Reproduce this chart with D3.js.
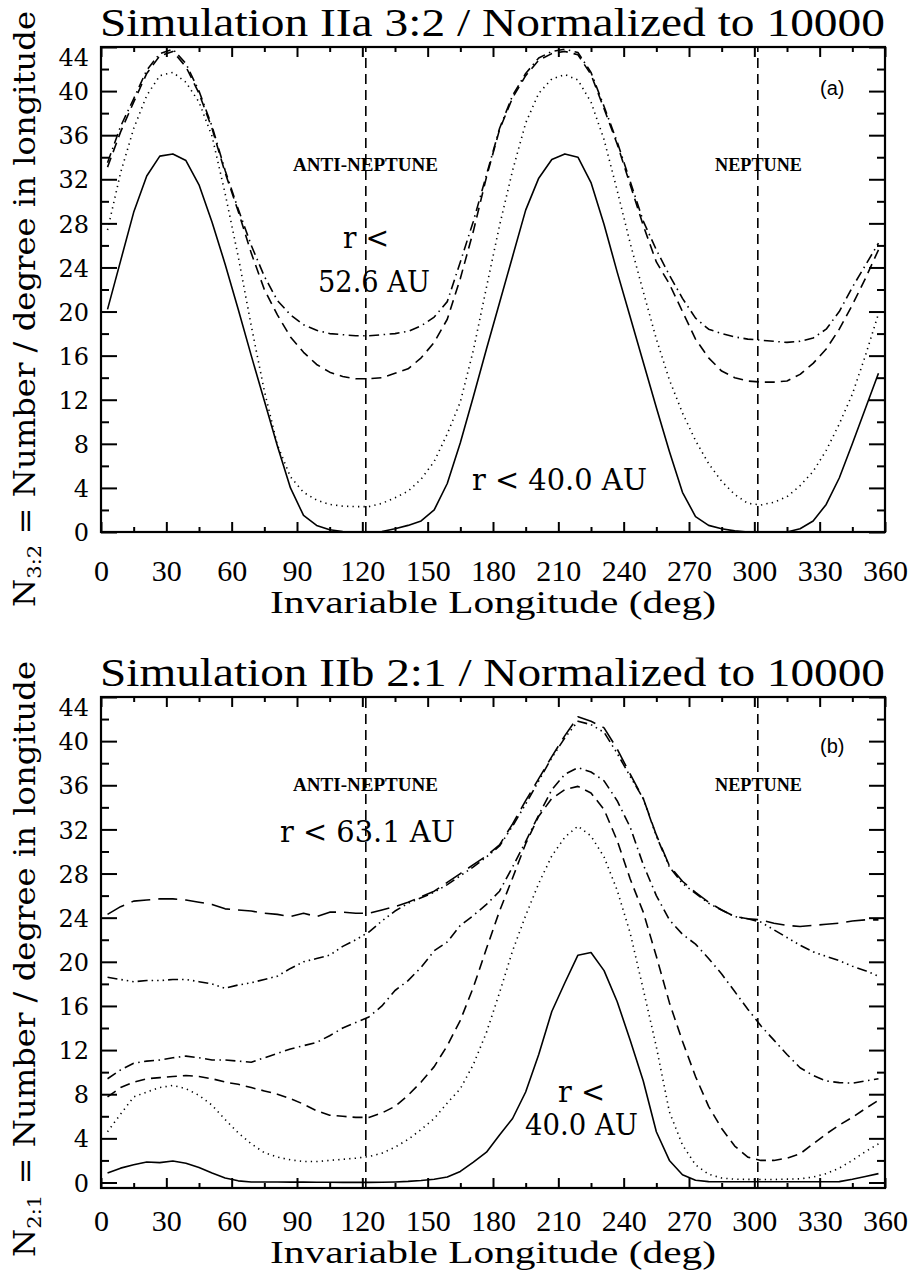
<!DOCTYPE html>
<html>
<head>
<meta charset="utf-8">
<script src="https://cdn.jsdelivr.net/npm/d3@7"></script>
<style>
  body { margin: 0; background: #fff; }
</style>
</head>
<body>
<svg id="chart" width="914" height="1273"></svg>
<script>
// Bin centres (invariable longitude, deg)
const longitude = [
  3, 9, 15, 21, 27, 33, 39, 45, 51, 57,
  63, 69, 75, 81, 87, 93, 99, 105, 111, 117,
  123, 129, 135, 141, 147, 153, 159, 165, 171, 177,
  183, 189, 195, 201, 207, 213, 219, 225, 231, 237,
  243, 249, 255, 261, 267, 273, 279, 285, 291, 297,
  303, 309, 315, 321, 327, 333, 339, 345, 351, 357
];

// Panel (a): 3:2 resonance
const topSolid = [
  20.2, 24.6, 29.0, 32.3, 34.1, 34.3, 33.7, 31.5, 28.1, 24.3,
  20.2, 16.0, 11.9, 7.8, 4.0, 1.5, 0.6, 0.2, 0.05, 0,
  0, 0.05, 0.3, 0.6, 1.0, 2.0, 4.4, 8.1, 12.3, 16.6,
  20.8, 25.0, 29.2, 32.1, 33.8, 34.3, 34.0, 31.7, 27.9, 23.6,
  19.5, 15.4, 11.3, 7.3, 3.6, 1.4, 0.6, 0.3, 0.1, 0,
  0, 0, 0, 0.3, 1.0, 2.5, 4.9, 8.0, 11.2, 14.4
];
const topDotted = [
  27.4, 32.6, 36.6, 39.6, 41.4, 41.7, 40.8, 39.0, 35.9, 30.7,
  25.0, 18.7, 12.8, 7.9, 5.0, 3.6, 2.9, 2.5, 2.35, 2.3,
  2.3, 2.6, 3.1, 3.7, 4.8, 6.4, 8.9, 11.8, 16.5, 22.2,
  27.8, 32.8, 37.1, 39.8, 41.1, 41.5, 41.0, 39.0, 35.6, 31.0,
  26.2, 21.8, 17.5, 13.8, 10.8, 8.3, 6.2, 4.6, 3.4, 2.6,
  2.45, 2.7, 3.2, 4.2, 5.5, 7.4, 9.8, 12.5, 16.0, 19.8
];
const topDashed = [
  33.1, 36.3, 39.0, 41.6, 43.2, 43.6, 42.2, 39.8, 36.6, 32.6,
  29.1, 25.3, 22.0, 19.7, 17.7, 16.3, 15.2, 14.5, 14.1, 13.9,
  13.9, 14.0, 14.4, 14.8, 15.8, 17.2, 19.3, 23.0, 27.3, 32.2,
  36.5, 39.4, 41.4, 42.8, 43.4, 43.6, 43.3, 41.5, 38.4, 35.2,
  31.5, 27.8, 24.5, 22.5, 20.0, 17.5, 15.8, 14.6, 14.0, 13.7,
  13.6, 13.6, 13.7, 14.3, 15.3, 16.6, 18.4, 20.6, 23.0, 25.6
];
const topDashDot = [
  33.5, 36.8, 39.3, 41.9, 43.4, 43.8, 42.5, 40.0, 36.8, 32.8,
  29.3, 26.0, 23.2, 21.0, 19.7, 18.8, 18.3, 18.0, 17.9, 17.8,
  17.8, 17.9, 18.0, 18.2, 18.7, 19.5, 20.9, 24.5, 28.2, 32.4,
  36.6, 39.6, 41.6, 43.0, 43.6, 43.8, 43.5, 41.7, 38.6, 35.4,
  31.8, 28.2, 25.6, 23.3, 21.2, 19.4, 18.4, 18.0, 17.7, 17.5,
  17.4, 17.3, 17.2, 17.3, 17.6, 18.4, 20.0, 22.2, 24.2, 26.2
];

// Panel (b): 2:1 resonance
const botSolid = [
  0.85, 1.3, 1.6, 1.85, 1.8, 1.95, 1.75, 1.35, 0.85, 0.4,
  0.15, 0.05, 0.05, 0.05, 0.03, 0.03, 0.02, 0.02, 0.01, 0.01,
  0.01, 0.02, 0.05, 0.1, 0.18, 0.3, 0.5, 1.0, 1.85, 2.75,
  4.3, 5.8, 8.2, 11.6, 15.5, 18.1, 20.6, 20.85, 19.2, 16.4,
  12.9, 9.2, 4.6, 2.0, 0.7, 0.2, 0.08, 0.06, 0.06, 0.06,
  0.06, 0.06, 0.06, 0.06, 0.06, 0.06, 0.08, 0.3, 0.55, 0.8
];
const botDotted = [
  4.6, 6.2, 7.75, 8.2, 8.6, 8.8, 8.5, 7.9, 7.0, 5.7,
  4.5, 3.5, 2.7, 2.3, 2.05, 1.9, 1.9, 2.0, 2.1, 2.2,
  2.35, 2.65, 3.2, 3.9, 4.8, 5.8, 7.2, 8.5, 10.7, 13.6,
  17.2, 21.0, 24.2, 27.1, 29.6, 31.3, 32.3, 31.4, 29.5, 26.5,
  22.6, 17.5, 12.3, 6.4, 3.4, 1.6, 0.75, 0.4, 0.3, 0.28,
  0.27, 0.27, 0.3, 0.33, 0.5, 0.8, 1.3, 2.0, 2.8, 3.5
];
const botDashed = [
  7.75, 8.6, 9.1, 9.4, 9.5, 9.6, 9.7, 9.6, 9.4, 9.1,
  8.9, 8.6, 8.3, 8.0, 7.6, 7.1, 6.5, 6.1, 6.0, 5.9,
  5.9, 6.3, 6.9, 7.9, 9.1, 10.5, 12.4, 14.7, 17.7, 21.2,
  24.6, 27.6, 30.7, 33.2, 34.8, 35.6, 35.9, 35.3, 33.8, 31.0,
  27.5, 24.5, 20.5, 16.3, 12.8, 9.6, 6.9, 4.9, 3.3, 2.3,
  2.0, 2.0, 2.2, 2.6, 3.5, 4.4, 5.2, 5.9, 6.7, 7.45
];
const botDashDot = [
  9.4, 10.2, 10.8, 11.0, 11.1, 11.3, 11.45, 11.3, 11.1, 11.1,
  11.0, 10.9, 11.3, 11.7, 12.1, 12.4, 12.7, 13.3, 14.0, 14.5,
  15.0, 16.0, 17.4, 18.3, 19.5, 21.0, 21.8, 23.3, 24.2, 25.2,
  26.4, 28.6, 30.9, 33.3, 35.6, 37.0, 37.6, 37.2, 36.4, 34.6,
  32.2, 28.8, 26.0, 23.8, 22.5, 21.6, 20.3, 18.9, 17.3, 15.7,
  14.2, 12.9, 11.6, 10.4, 9.7, 9.2, 9.05, 9.0, 9.2, 9.4
];
const botDashDotDot = [
  18.6, 18.4, 18.2, 18.3, 18.3, 18.4, 18.4, 18.2, 18.0, 17.6,
  17.9, 18.1, 18.4, 18.7, 19.4, 20.0, 20.3, 20.6, 21.4, 22.0,
  22.7, 23.7, 24.6, 25.3, 25.8, 26.3, 27.0, 27.8, 28.6, 29.5,
  30.5, 32.3, 34.3, 36.4, 38.5, 40.3, 41.8, 41.5, 40.8, 38.9,
  36.8, 34.8, 31.4, 28.6, 27.1, 26.2, 25.3, 24.7, 24.1, 23.9,
  23.6, 22.9, 22.2, 21.5, 20.9, 20.5, 20.1, 19.6, 19.2, 18.7
];
const botLongDash = [
  24.3, 25.0, 25.5, 25.6, 25.7, 25.7, 25.6, 25.4, 25.2, 24.8,
  24.7, 24.6, 24.4, 24.3, 24.1, 24.4, 24.1, 24.5, 24.5, 24.4,
  24.4, 24.7, 25.0, 25.4, 25.9, 26.4, 27.2, 28.0, 28.8, 29.6,
  30.6, 32.5, 34.6, 36.6, 38.6, 40.5, 42.2, 41.8, 41.2, 39.3,
  37.0, 34.8, 31.5, 28.7, 27.3, 26.3, 25.4, 24.7, 24.1, 23.9,
  23.8, 23.5, 23.3, 23.2, 23.3, 23.4, 23.5, 23.7, 23.8, 23.8
];

const xTicks = [0, 30, 60, 90, 120, 150, 180, 210, 240, 270, 300, 330, 360];
const xMinorTicks = [15, 45, 75, 105, 135, 165, 195, 225, 255, 285, 315, 345];
const yTicks = [0, 4, 8, 12, 16, 20, 24, 28, 32, 36, 40, 44];
const yMinorTicks = [2, 6, 10, 14, 18, 22, 26, 30, 34, 38, 42];
const neptuneLon = [121.6, 301.6];   // anti-Neptune, Neptune

// IDL style line patterns
const dash = {
  solid: null,
  dotted: "1.3,4.2",
  dashed: "10,6",
  dashdot: "10,4.5,1.5,4.5",
  dashdotdot: "10,4,1.5,4,1.5,4,1.5,4",
  longdash: "19,8"
};

const svg = d3.select("#chart");
const serif = "Liberation Serif";
const book = "DejaVu Serif";
const sans = "Liberation Sans";

function drawPanel(cfg) {
  const x = d3.scaleLinear().domain([0, 360]).range([101, 885]);
  const y = d3.scaleLinear().domain(cfg.yDomain).range([cfg.bottom, cfg.top]);
  const g = svg.append("g");

  const clipId = "clip-" + cfg.id;
  g.append("clipPath").attr("id", clipId)
    .append("rect")
    .attr("x", 101).attr("y", cfg.top - 1)
    .attr("width", 784).attr("height", cfg.bottom - cfg.top + 2);

  // title
  g.append("text")
    .attr("x", 100).attr("y", cfg.top - 11)
    .style("font-family", serif).attr("font-size", 39)
    .attr("textLength", 785).attr("lengthAdjust", "spacingAndGlyphs")
    .text(cfg.title);

  // Neptune / anti-Neptune markers
  g.selectAll(".nep").data(neptuneLon).join("line")
    .attr("x1", d => x(d)).attr("x2", d => x(d))
    .attr("y1", cfg.bottom).attr("y2", cfg.top)
    .attr("stroke", "#000").attr("stroke-width", 1.6)
    .attr("stroke-dasharray", "10,6");

  // curves
  const line = d3.line()
    .x((d, i) => x(longitude[i]))
    .y(d => y(d));
  g.append("g").attr("clip-path", `url(#${clipId})`)
    .selectAll("path").data(cfg.series).join("path")
    .attr("d", s => line(s.values))
    .attr("fill", "none").attr("stroke", "#000")
    .attr("stroke-width", 1.6)
    .attr("stroke-linejoin", "round")
    .attr("stroke-dasharray", s => dash[s.style]);

  // axes (IDL: ticks inward on all four sides)
  const bottomAx = g.append("g").attr("transform", `translate(0,${cfg.bottom})`)
    .call(d3.axisBottom(x).tickValues(xTicks).tickSize(-10).tickFormat(d3.format("d")));
  bottomAx.selectAll("text")
    .attr("y", cfg.xLabelY - cfg.bottom).attr("dy", null)
    .style("font-family", serif).attr("font-size", 30).attr("fill", "#000");
  g.append("g").attr("transform", `translate(0,${cfg.bottom})`)
    .call(d3.axisBottom(x).tickValues(xMinorTicks).tickSize(-5).tickFormat(""));
  g.append("g").attr("transform", `translate(0,${cfg.top})`)
    .call(d3.axisTop(x).tickValues(xTicks).tickSize(-10).tickFormat(""));
  g.append("g").attr("transform", `translate(0,${cfg.top})`)
    .call(d3.axisTop(x).tickValues(xMinorTicks).tickSize(-5).tickFormat(""));

  const leftAx = g.append("g").attr("transform", "translate(101,0)")
    .call(d3.axisLeft(y).tickValues(yTicks).tickSize(-16).tickPadding(12));
  leftAx.selectAll("text")
    .style("font-family", book).attr("font-size", 24).attr("fill", "#000")
    .attr("dy", d => d === 44 ? "0.75em" : "0.36em");
  g.append("g").attr("transform", "translate(101,0)")
    .call(d3.axisLeft(y).tickValues(yMinorTicks).tickSize(-8).tickFormat(""));
  g.append("g").attr("transform", "translate(885,0)")
    .call(d3.axisRight(y).tickValues(yTicks).tickSize(-16).tickFormat(""));
  g.append("g").attr("transform", "translate(885,0)")
    .call(d3.axisRight(y).tickValues(yMinorTicks).tickSize(-8).tickFormat(""));

  g.selectAll(".domain").remove();
  g.selectAll(".tick line").attr("stroke", "#000").attr("stroke-width", 2);

  g.append("rect")
    .attr("x", 101).attr("y", cfg.top)
    .attr("width", 784).attr("height", cfg.bottom - cfg.top)
    .attr("fill", "none").attr("stroke", "#000").attr("stroke-width", 2.2);

  // x axis title
  g.append("text")
    .attr("x", 270).attr("y", cfg.xTitleY)
    .style("font-family", serif).attr("font-size", 31)
    .attr("textLength", 446).attr("lengthAdjust", "spacingAndGlyphs")
    .text("Invariable Longitude (deg)");

  // y axis title
  const yt = g.append("text")
    .attr("transform", `translate(35,${cfg.yTitleMid}) rotate(-90)`)
    .attr("text-anchor", "middle")
    .style("font-family", book).attr("font-size", 29)
    .attr("textLength", 596).attr("lengthAdjust", "spacingAndGlyphs");
  yt.append("tspan").text("N");
  yt.append("tspan").attr("baseline-shift", "-30%").attr("font-size", 19).text(cfg.sub);
  yt.append("tspan").text(" = Number / degree in longitude");

  // annotations
  g.selectAll(".ann").data(cfg.notes).join("text")
    .attr("x", d => d.x).attr("y", d => d.y)
    .style("font-family", d => d.font)
    .attr("font-size", d => d.size)
    .attr("font-weight", d => d.bold ? "bold" : null)
    .attr("textLength", d => d.len || null)
    .attr("lengthAdjust", "spacingAndGlyphs")
    .style("white-space", "pre")
    .text(d => d.text);
}

drawPanel({
  id: "a", top: 47, bottom: 532, yDomain: [0, 44],
  title: "Simulation IIa 3:2 / Normalized to 10000",
  sub: "3:2", xLabelY: 581, xTitleY: 613, yTitleMid: 309,
  series: [
    { values: topSolid, style: "solid" },
    { values: topDotted, style: "dotted" },
    { values: topDashed, style: "dashed" },
    { values: topDashDot, style: "dashdot" }
  ],
  notes: [
    { text: "ANTI-NEPTUNE", x: 293, y: 171, font: serif, size: 18, bold: true, len: 145 },
    { text: "NEPTUNE", x: 715, y: 171, font: serif, size: 18, bold: true, len: 87 },
    { text: "(a)", x: 820, y: 95, font: sans, size: 20 },
    { text: "r <", x: 343, y: 248, font: book, size: 29, len: 46 },
    { text: "52.6 AU", x: 318, y: 292, font: book, size: 29, len: 112 },
    { text: "r < 40.0 AU", x: 472, y: 490, font: book, size: 29, len: 175 }
  ]
});

drawPanel({
  id: "b", top: 697, bottom: 1188, yDomain: [-0.5, 44],
  title: "Simulation IIb 2:1 / Normalized to 10000",
  sub: "2:1", xLabelY: 1231, xTitleY: 1263, yTitleMid: 959,
  series: [
    { values: botSolid, style: "solid" },
    { values: botDotted, style: "dotted" },
    { values: botDashed, style: "dashed" },
    { values: botDashDot, style: "dashdot" },
    { values: botDashDotDot, style: "dashdotdot" },
    { values: botLongDash, style: "longdash" }
  ],
  notes: [
    { text: "ANTI-NEPTUNE", x: 293, y: 791, font: serif, size: 18, bold: true, len: 145 },
    { text: "NEPTUNE", x: 715, y: 791, font: serif, size: 18, bold: true, len: 87 },
    { text: "(b)", x: 820, y: 753, font: sans, size: 20 },
    { text: "r < 63.1 AU", x: 280, y: 842, font: book, size: 29, len: 175 },
    { text: "r <", x: 558, y: 1102, font: book, size: 29, len: 47 },
    { text: "40.0 AU", x: 525, y: 1135, font: book, size: 29, len: 113 }
  ]
});
</script>
</body>
</html>
